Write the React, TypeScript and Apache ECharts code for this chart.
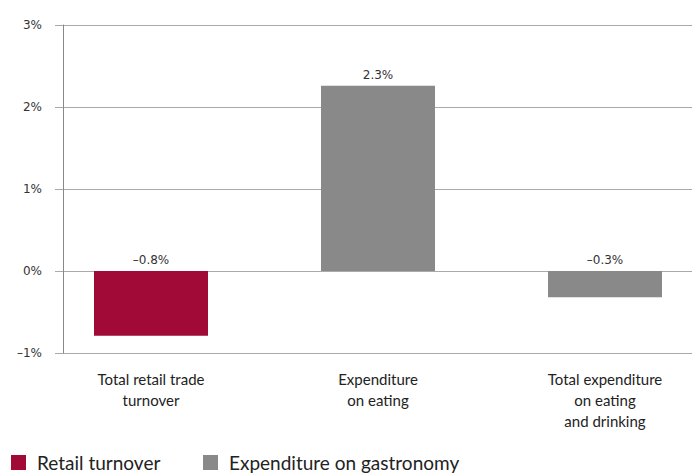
import React, { useEffect, useRef } from "react";
import * as echarts from "echarts";

const categories = ["Total retail trade\nturnover", "Expenditure\non eating", "Total expenditure\non eating\nand drinking"];
const retailValues: (number | string)[] = [-0.79, "-", "-"];
const gastroValues: (number | string)[] = ["-", 2.26, -0.32];
const yTicks = [-1, 0, 1, 2, 3];
const seriesNames = ["Retail turnover", "Expenditure on gastronomy"];

const fmt = (v: number) => {
  const s = Math.abs(v).toFixed(1) + "%";
  return v < 0 ? "\u2013" + s : s;
};
const fmtTick = (v: number) => (v < 0 ? "\u2013" + Math.abs(v) + "%" : v + "%");

export default function App() {
  const ref = useRef<HTMLDivElement>(null);
  useEffect(() => {
    const chart = echarts.init(ref.current!, undefined, { renderer: "svg" });
    const labelStyle = {
      show: true,
      position: "top" as const,
      distance: 5,
      fontFamily: "DejaVu Sans",
      fontSize: 12,
      color: "#333",
      formatter: (p: any) => fmt(p.value),
    };
    const legendBase = {
      bottom: 3,
      padding: 0,
      icon: "rect",
      itemWidth: 15,
      itemHeight: 15,
      textStyle: { fontFamily: "Lato", fontSize: 19, color: "#222", padding: [0, 0, 0, 6] },
    };
    chart.setOption({
      animation: false,
      grid: [
        { left: 63, right: 0, top: 25, bottom: 122 },
        { left: 151, right: 87, top: 25, bottom: 122 },
      ],
      xAxis: [
        { type: "category", gridIndex: 0, data: categories, show: false },
        {
          type: "category",
          gridIndex: 1,
          data: categories,
          boundaryGap: false,
          axisLine: { show: false },
          axisTick: { show: false },
          axisLabel: {
            margin: 15,
            fontFamily: "Lato",
            fontSize: 15,
            lineHeight: 21,
            color: "#222",
            interval: 0,
          },
        },
      ],
      yAxis: [
        {
          type: "value",
          gridIndex: 0,
          min: yTicks[0],
          max: yTicks[yTicks.length - 1],
          interval: 1,
          axisLine: { show: true, lineStyle: { color: "#888", width: 1 } },
          axisTick: { show: true, length: 8, lineStyle: { color: "#aaa" } },
          splitLine: { show: true, lineStyle: { color: "#aaa", width: 1 } },
          axisLabel: {
            margin: 21,
            fontFamily: "DejaVu Sans",
            fontSize: 12,
            color: "#333",
            formatter: (v: number) => fmtTick(v),
          },
        },
        {
          type: "value",
          gridIndex: 1,
          min: yTicks[0],
          max: yTicks[yTicks.length - 1],
          interval: 1,
          show: false,
          splitLine: { show: false },
        },
      ],
      legend: [
        { ...legendBase, left: 11, data: [seriesNames[0]] },
        { ...legendBase, left: 203, data: [seriesNames[1]] },
      ],
      series: [
        {
          name: seriesNames[0],
          type: "bar",
          xAxisIndex: 1,
          yAxisIndex: 1,
          stack: "s",
          barWidth: 114,
          clip: false,
          data: retailValues,
          itemStyle: { color: "#a10a37" },
          label: labelStyle,
        },
        {
          name: seriesNames[1],
          type: "bar",
          xAxisIndex: 1,
          yAxisIndex: 1,
          stack: "s",
          barWidth: 114,
          clip: false,
          data: gastroValues,
          itemStyle: { color: "#898989" },
          label: labelStyle,
        },
      ],
    });
    return () => chart.dispose();
  }, []);
  return (
    <div
      ref={ref}
      style={{ position: "absolute", left: 0, top: 0, width: 692, height: 475 }}
    />
  );
}
